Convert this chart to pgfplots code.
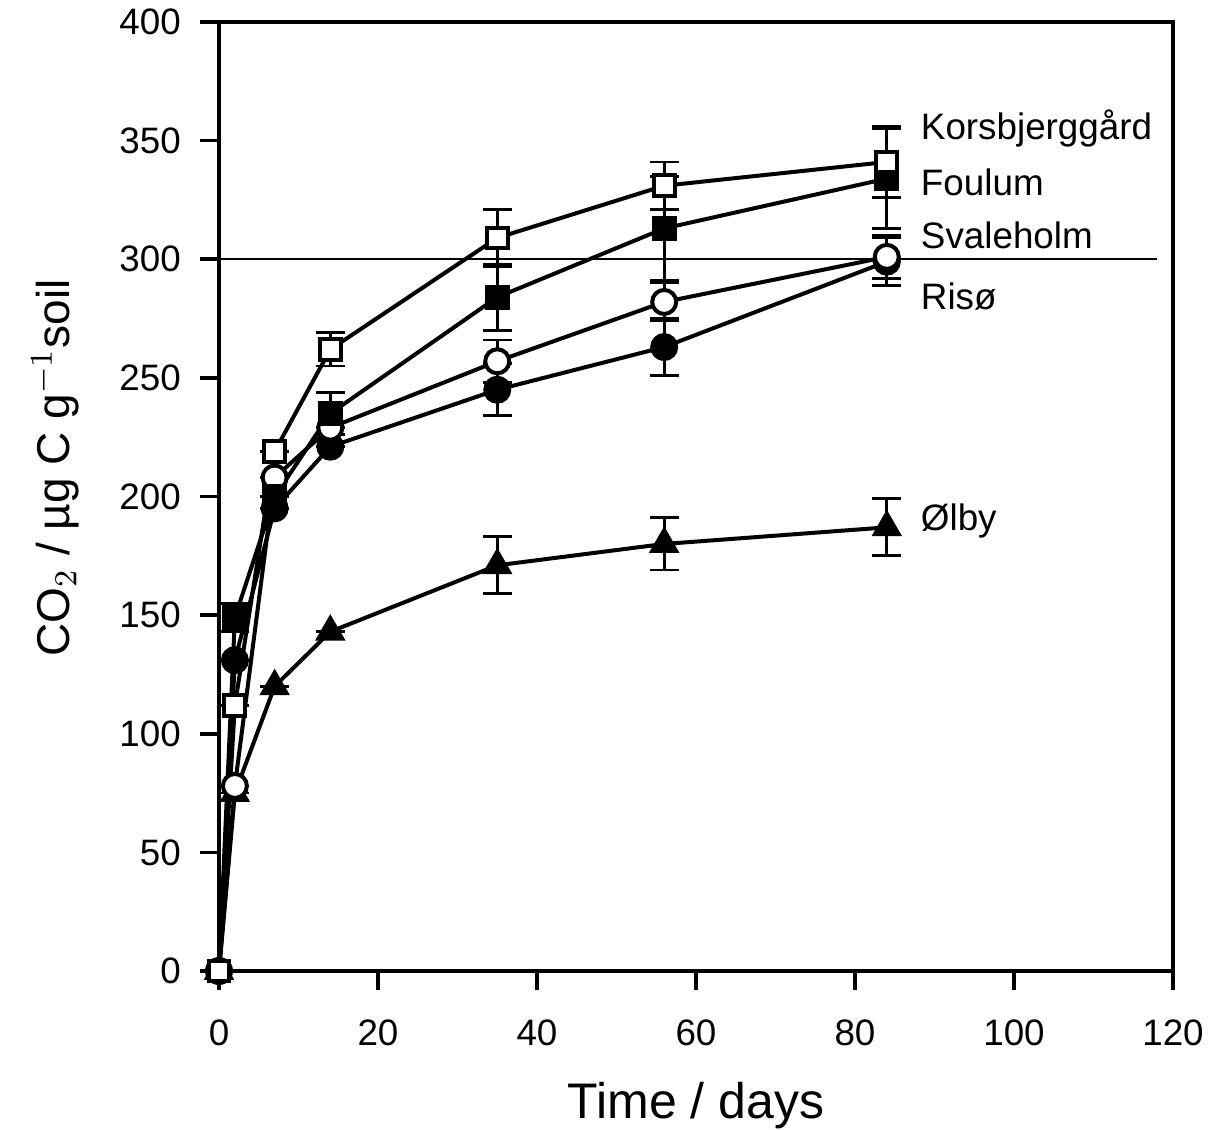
\documentclass[border=0pt]{standalone}
\usepackage{fontspec}
\setmainfont{Liberation Sans}
\usepackage{pgfplots}
\pgfplotsset{compat=1.18}
\usetikzlibrary{calc}

\begin{document}
\begin{tikzpicture}
\begin{axis}[
  name=ax,
  scale only axis,
  width=238.5pt, height=237.25pt,
  xmin=0, xmax=120, ymin=0, ymax=400,
  xtick={0,20,...,120}, ytick={0,50,...,400},
  tick align=outside, tick pos=left,
  major tick length=4.75pt,
  axis line style={line width=1pt},
  every tick/.style={black, line width=0.9pt},
  /pgf/number format/assume math mode=true,
  tick label style={font=\fontsize{9.2}{11}\selectfont},
  xticklabel style={yshift=-4pt},
  yticklabel style={xshift=-1.25pt},
  xlabel={Time / days},
  ylabel={CO$_2$ / µg C g$^{-1}$soil},
  xlabel style={font=\fontsize{12.5}{14}\selectfont,
    at={(axis description cs:0.5,0)}, anchor=base, yshift=-36.75pt},
  ylabel style={font=\fontsize{11.5}{13}\selectfont,
    at={(axis description cs:0,0.53)}, anchor=center, yshift=41pt},
  clip=false,
  error bars/error bar style={line width=0.7pt},
  error bars/error mark options={rotate=90, mark size=3.6pt, line width=0.7pt},
]
% reference line at 300
\addplot[black, line width=0.5pt] coordinates {(0,300)(118,300)};

% Olby
\addplot[black, line width=1pt, mark=triangle*, mark size=3.4pt,
  error bars/.cd, y dir=both, y explicit] coordinates {
  (0,0) +- (0,0)
  (2,75) +- (0,0)
  (7,120) +- (0,0)
  (14,143) +- (0,0)
  (35,171) +- (0,12)
  (56,180) +- (0,11)
  (84,187) +- (0,12)};
% Riso
\addplot[black, line width=1pt, mark=*, mark size=3pt,
  error bars/.cd, y dir=both, y explicit] coordinates {
  (0,0) +- (0,0)
  (2,131) +- (0,0)
  (7,195) +- (0,0)
  (14,221) +- (0,0)
  (35,245) +- (0,11)
  (56,263) +- (0,12)
  (84,299) +- (0,10)};
% Svaleholm
\addplot[black, line width=1pt, mark=*, mark size=3pt,
  mark options={fill=white},
  error bars/.cd, y dir=both, y explicit] coordinates {
  (0,0) +- (0,0)
  (2,78) +- (0,0)
  (7,208) +- (0,0)
  (14,229) +- (0,0)
  (35,257) +- (0,9)
  (56,282) +- (0,8)
  (84,301) +- (0,9)};
% Foulum
\addplot[black, line width=1pt, mark=square*, mark size=2.6pt,
  error bars/.cd, y dir=both, y explicit] coordinates {
  (0,0) +- (0,0)
  (2,149) +- (0,6)
  (7,200) +- (0,0)
  (14,235) +- (0,9)
  (35,284) +- (0,14)
  (56,313) +- (0,22)
  (84,334) +- (0,21)};
% Korsbjerggard
\addplot[black, line width=1pt, mark=square*, mark size=2.6pt,
  mark options={fill=white},
  error bars/.cd, y dir=both, y explicit] coordinates {
  (0,0) +- (0,0)
  (2,112) +- (0,0)
  (7,219) +- (0,0)
  (14,262) +- (0,7)
  (35,309) +- (0,12)
  (56,331) +- (0,10)
  (84,341) +- (0,15)};

\begin{scope}[every node/.style={anchor=west, inner sep=0pt, font=\fontsize{9.2}{11}\selectfont}]
\node at (axis cs:88.2,355) {Korsbjerggård};
\node at (axis cs:88.2,332.5) {Foulum};
\node at (axis cs:88.2,310) {Svaleholm};
\node at (axis cs:88.2,284.5) {Risø};
\node at (axis cs:88.2,189.5) {Ølby};
\end{scope}
\end{axis}
\pgfresetboundingbox
\path[use as bounding box] ($(ax.south west)+(-54.75pt,-39.5pt)$) rectangle ($(ax.north east)+(9.75pt,5.5pt)$);
\end{tikzpicture}
\end{document}
